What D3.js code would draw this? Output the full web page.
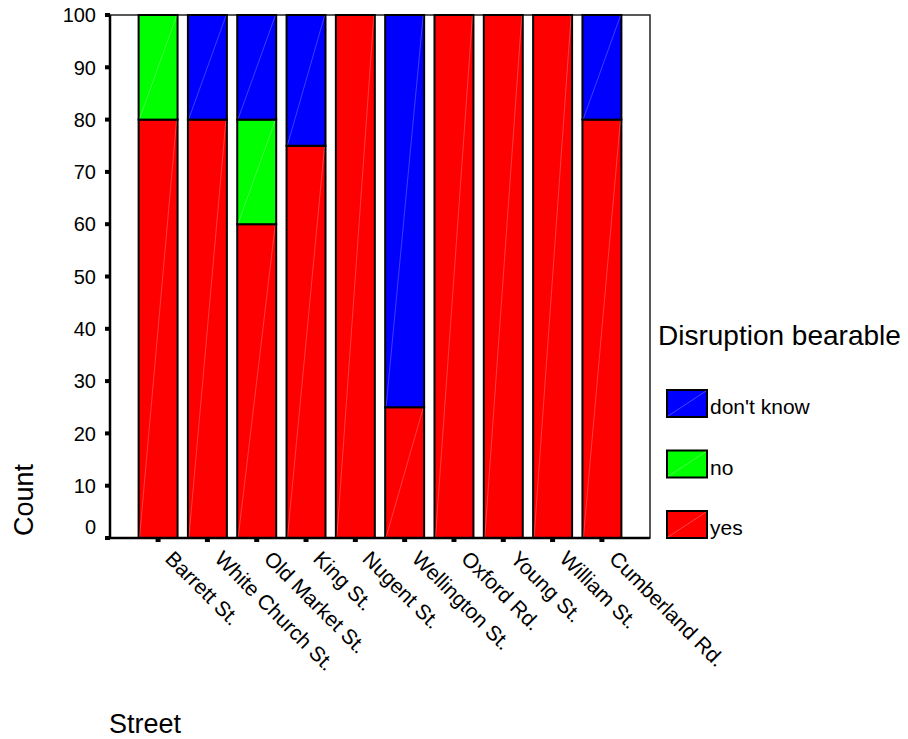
<!DOCTYPE html>
<html>
<head>
<meta charset="utf-8">
<script src="https://cdn.jsdelivr.net/npm/d3@7"></script>
<style>
  html, body { margin: 0; padding: 0; background: #fff; }
  svg { display: block; font-family: "Liberation Sans", Arial, sans-serif; }
</style>
</head>
<body>
<svg id="chart" width="908" height="739"></svg>
<script>
// ---- data ----
const streets = ["Barrett St.", "White Church St.", "Old Market St.", "King St.", "Nugent St.",
                 "Wellington St.", "Oxford Rd.", "Young St.", "William St.", "Cumberland Rd."];
const yesValues = [80, 80, 60, 75, 100, 25, 100, 100, 100, 80];
const noValues = [20, 0, 20, 0, 0, 0, 0, 0, 0, 0];
const dontKnowValues = [0, 20, 20, 25, 0, 75, 0, 0, 0, 20];
const seriesKeys = ["yes", "no", "don't know"];
const seriesColors = ["#ff0000", "#00ff00", "#0000ff"];
const yTickValues = [0, 10, 20, 30, 40, 50, 60, 70, 80, 90, 100];
const yTitle = "Count";
const xTitle = "Street";
const legendTitle = "Disruption bearable";

(function () {
// ---- build table ----
const table = streets.map((s, i) => ({
  street: s,
  "yes": yesValues[i],
  "no": noValues[i],
  "don't know": dontKnowValues[i]
}));

const svg = d3.select("#chart");
const pLeft = 110, pRight = 650, pTop = 15, pBottom = 538;

const x = d3.scaleBand().domain(streets).range([pLeft, pRight])
  .paddingInner(0.21).paddingOuter(0.58);
const y = d3.scaleLinear().domain([0, 100]).range([pBottom, pTop]);
const color = d3.scaleOrdinal().domain(seriesKeys).range(seriesColors);

const stacked = d3.stack().keys(seriesKeys)(table);

// frame (top/right)
svg.append("rect")
  .attr("x", pLeft).attr("y", pTop)
  .attr("width", pRight - pLeft).attr("height", pBottom - pTop)
  .attr("fill", "none").attr("stroke", "#222").attr("stroke-width", 1.5);

// bars
const layers = svg.append("g").selectAll("g")
  .data(stacked).join("g")
  .attr("fill", d => color(d.key));

layers.each(function(layer) {
  const g = d3.select(this);
  const segs = layer.filter(d => d[1] - d[0] > 0);
  g.selectAll("rect").data(segs).join("rect")
    .attr("x", d => x(d.data.street))
    .attr("y", d => y(d[1]))
    .attr("width", x.bandwidth())
    .attr("height", d => y(d[0]) - y(d[1]))
    .attr("stroke", "#000")
    .attr("stroke-width", 2);
  g.selectAll("line").data(segs).join("line")
    .attr("x1", d => x(d.data.street) + 1)
    .attr("y1", d => y(d[0]) - 1)
    .attr("x2", d => x(d.data.street) + x.bandwidth() - 1)
    .attr("y2", d => y(d[1]) + 1)
    .attr("stroke", "#fff").attr("stroke-opacity", 0.3).attr("stroke-width", 0.8);
});

// axes lines
svg.append("line").attr("x1", pLeft).attr("x2", pLeft).attr("y1", pTop).attr("y2", pBottom + 1)
  .attr("stroke", "#000").attr("stroke-width", 2.5);
svg.append("line").attr("x1", pLeft - 1).attr("x2", pRight).attr("y1", pBottom).attr("y2", pBottom)
  .attr("stroke", "#000").attr("stroke-width", 2.5);

// y ticks
const yAxis = svg.append("g");
yAxis.selectAll("rect").data(yTickValues).join("rect")
  .attr("x", pLeft - 5).attr("y", d => y(d) - 2).attr("width", 5).attr("height", 4)
  .attr("fill", "#000");
yAxis.selectAll("text").data(yTickValues).join("text")
  .attr("x", 96)
  .attr("y", d => y(d) + (d === 0 ? -11 : 0))
  .attr("dy", "0.36em")
  .attr("text-anchor", "end")
  .attr("font-size", 20)
  .attr("fill", "#000")
  .text(d => d);

// x ticks
const xAxis = svg.append("g");
xAxis.selectAll("rect").data(streets).join("rect")
  .attr("x", d => x(d) + x.bandwidth() / 2 - 2.5).attr("y", pBottom).attr("width", 5).attr("height", 4)
  .attr("fill", "#000");
xAxis.selectAll("text").data(streets).join("text")
  .attr("transform", d => `translate(${x(d) + x.bandwidth() / 2 + 6},${pBottom + 22}) rotate(45)`)
  .attr("font-size", 21)
  .attr("fill", "#000")
  .text(d => d);

// axis titles
svg.append("text")
  .attr("transform", "translate(33,500) rotate(-90)")
  .attr("text-anchor", "middle")
  .attr("font-size", 27)
  .attr("fill", "#000")
  .text(yTitle);
svg.append("text")
  .attr("x", 109).attr("y", 733)
  .attr("font-size", 27)
  .attr("fill", "#000")
  .text(xTitle);

// legend
svg.append("text")
  .attr("x", 658).attr("y", 345)
  .attr("font-size", 28)
  .attr("fill", "#000")
  .text(legendTitle);

const legendKeys = seriesKeys.slice().reverse();
const legendY = d3.scalePoint().domain(legendKeys).range([390, 511]);
const lg = svg.append("g").selectAll("g").data(legendKeys).join("g")
  .attr("transform", d => `translate(667,${legendY(d)})`);
lg.append("rect")
  .attr("width", 40).attr("height", 27)
  .attr("fill", d => color(d))
  .attr("stroke", "#000").attr("stroke-width", 2);
lg.append("line")
  .attr("x1", 1).attr("y1", 26).attr("x2", 39).attr("y2", 1)
  .attr("stroke", "#fff").attr("stroke-opacity", 0.35).attr("stroke-width", 0.8);
lg.append("text")
  .attr("x", 43).attr("y", 24)
  .attr("font-size", 21)
  .attr("fill", "#000")
  .text(d => d);
})();
</script>
</body>
</html>
